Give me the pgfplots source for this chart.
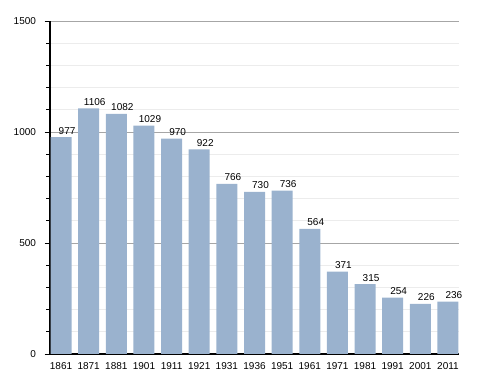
\documentclass[border=0pt]{standalone}
\usepackage{pgfplots}
\pgfplotsset{compat=1.18}
\usepackage{fontspec}
\setmainfont{Liberation Sans}
\definecolor{barblue}{HTML}{9AB2CE}
\begin{document}
\begin{tikzpicture}
\useasboundingbox (-37.5pt,-14.25pt) rectangle (328.5pt,265.5pt);
\begin{axis}[
  at={(0,0)}, anchor=south west,
  scale only axis, width=306.75pt, height=249.75pt,
  xmin=-0.4, xmax=14.4, ymin=0, ymax=1500,
  axis x line=bottom, axis y line=left,
  axis line style={black, line width=0.8pt, -},
  ybar, bar width=15.75pt,
  xtick={0,...,14},
  xticklabels={1861,1871,1881,1901,1911,1921,1931,1936,1951,1961,1971,1981,1991,2001,2011},
  major x tick style={draw=none},
  ytick={0,500,1000,1500},
  minor y tick num=4,
  ymajorgrids, yminorgrids,
  major grid style={gray!70, line width=0.6pt},
  minor grid style={gray!15, line width=0.5pt},
  tick align=outside,
  major tick length=4pt, minor tick length=3pt,
  y tick style={black, line width=0.6pt},
  tick label style={font=\fontsize{7.5}{9}\selectfont},
  /pgf/number format/assume math mode=true,
  /pgf/number format/1000 sep={},
  xticklabel style={yshift=1pt},
  yticklabel style={xshift=-3pt},
  nodes near coords,
  nodes near coords style={font=\fontsize{7.5}{9}\selectfont, anchor=south, xshift=4.5pt, inner sep=2pt, /pgf/number format/1000 sep={}},
]
\addplot[fill=barblue, draw=none] coordinates {
(0,977) (1,1106) (2,1082) (3,1029) (4,970) (5,922) (6,766) (7,730) (8,736) (9,564) (10,371) (11,315) (12,254) (13,226) (14,236)
};
\end{axis}
\end{tikzpicture}
\end{document}
